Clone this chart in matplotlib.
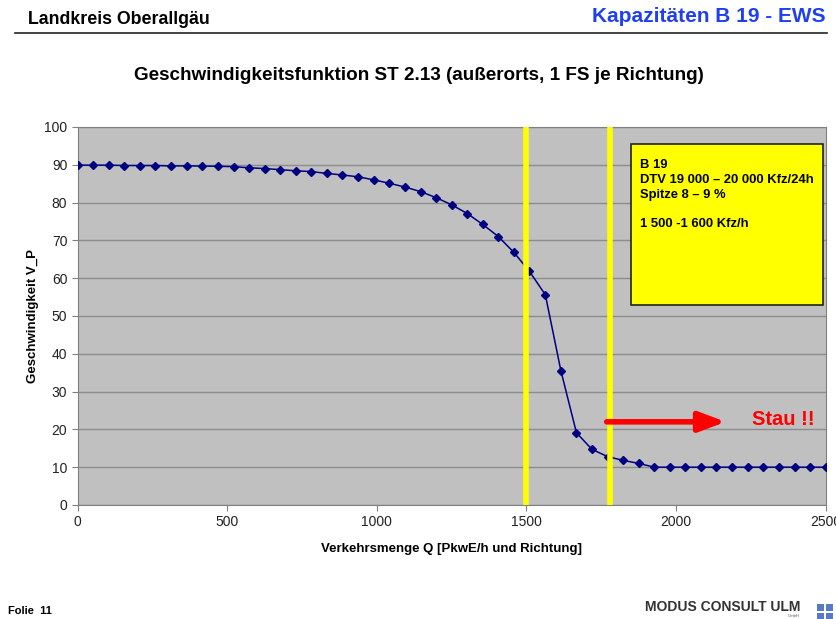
import matplotlib
matplotlib.use("Agg")
import matplotlib.pyplot as plt
from matplotlib.patches import Rectangle

plt.rcParams['font.family'] = ['Liberation Sans', 'DejaVu Sans']

# Verkehrsmenge Q [PkwE/h] und Geschwindigkeit V_P
menge = [0, 52, 104, 156, 208, 260, 313, 365, 417, 469, 521, 573, 625, 677, 729,
         781, 833, 885, 938, 990, 1042, 1094, 1146, 1198, 1250, 1302, 1354, 1406,
         1458, 1510, 1563, 1615, 1667, 1719, 1771, 1823, 1875, 1927, 1979, 2031,
         2083, 2135, 2188, 2240, 2292, 2344, 2396, 2448, 2500]
geschw = [89.9, 89.9, 89.9, 89.8, 89.8, 89.8, 89.7, 89.7, 89.65, 89.6, 89.5,
          89.2, 89.0, 88.7, 88.4, 88.2, 87.7, 87.3, 86.8, 86.0, 85.1, 84.1, 82.9,
          81.3, 79.4, 77.1, 74.2, 71.0, 66.8, 61.8, 55.6, 35.5, 19.1, 14.7, 12.8,
          11.8, 11.0, 10.0, 10.0, 10.0, 10.0, 10.0, 10.0, 10.0, 10.0, 10.0, 10.0,
          10.0, 10.0]

grenzen = [1500, 1780]  # gelbe Linien
stau_pfeil = [1768, 2166, 22]  # von, bis, hoehe
box_text = ["B 19", "DTV 19 000 \u2013 20 000 Kfz/24h", "Spitze 8 \u2013 9 %", "", "1 500 -1 600 Kfz/h"]

fig = plt.figure(figsize=(8.37, 6.19), dpi=100)
ax = fig.add_axes([0.0928, 0.1842, 0.8937, 0.6107])
ax.set_facecolor('#c0c0c0')

ax.plot(menge, geschw, color='#000080', marker='D', markersize=3.8, linewidth=1.1, zorder=3)

for g in grenzen:
    ax.axvline(g, ymin=0, ymax=0.995, color='#ffff00', linewidth=4, zorder=4)

ax.set_xlim(0, 2500)
ax.set_ylim(0, 100)
ax.set_xticks([0, 500, 1000, 1500, 2000, 2500])
ax.set_yticks(range(0, 101, 10))
ax.yaxis.grid(True, color='#8c8c8c', linewidth=1)
ax.set_axisbelow(True)
for s in ax.spines.values():
    s.set_color('#808080')
ax.tick_params(colors='#808080', labelcolor='#222222', labelsize=10, length=4)

ax.set_xlabel('Verkehrsmenge Q [PkwE/h und Richtung]', fontsize=9.5, fontweight='bold', labelpad=10)
ax.set_ylabel('Geschwindigkeit V_P', fontsize=9.5, fontweight='bold', labelpad=4)

# Stau-Pfeil
ax.annotate('', xy=(stau_pfeil[1], stau_pfeil[2]), xytext=(stau_pfeil[0], stau_pfeil[2]),
            arrowprops=dict(arrowstyle='-|>,head_length=1.6,head_width=0.6', color='#ff0000', lw=4,
                            shrinkA=0, shrinkB=0), zorder=5)
ax.text(2255, stau_pfeil[2] + 0.5, 'Stau !!', color='#ff0000', fontsize=14.5, fontweight='bold',
        va='center', ha='left', zorder=5)

# gelbe Box
ax.add_patch(Rectangle((0.740, 0.529), 0.256, 0.426, transform=ax.transAxes,
                       facecolor='#ffff00', edgecolor='#222222', linewidth=1.2, zorder=6))
ax.text(0.752, 0.914, "\n".join(box_text), transform=ax.transAxes, fontsize=9.4,
        fontweight='bold', va='top', ha='left', linespacing=1.3, zorder=7)

fig.text(0.5, 0.878, 'Geschwindigkeitsfunktion ST 2.13 (au\u00dferorts, 1 FS je Richtung)',
         ha='center', va='center', fontsize=13.6, fontweight='bold')

# Kopfzeile
fig.text(28 / 837, 1 - 20 / 619, 'Landkreis Oberallg\u00e4u', ha='left', va='center', fontsize=12.8,
         fontweight='bold')
fig.text(826 / 837, 1 - 16 / 619, 'Kapazit\u00e4ten B 19 - EWS', ha='right', va='center', fontsize=15,
         fontweight='bold', color='#2040f0')
fig.add_artist(plt.Line2D([15 / 837, 827 / 837], [1 - 33 / 619, 1 - 33 / 619], color='#222222', linewidth=1.2))

# Fusszeile
fig.text(8 / 837, 1 - 611 / 619, 'Folie  11', ha='left', va='center', fontsize=8, fontweight='bold')
fig.text(800 / 837, 1 - 607 / 619, 'MODUS CONSULT ULM', ha='right', va='center', fontsize=10,
         fontweight='bold', color='#333333')
fig.text(800 / 837, 1 - 616 / 619, 'GmbH', ha='right', va='center', fontsize=3, color='#555555')
for dx, dy in [(0, 0), (9, 0), (0, 9), (9, 9)]:
    fig.add_artist(Rectangle(((817 + dx) / 837, 1 - (611 + dy) / 619), 7 / 837, 7 / 619,
                             facecolor='#5a78c8', edgecolor='none'))

fig.savefig('out.png', dpi=100)
